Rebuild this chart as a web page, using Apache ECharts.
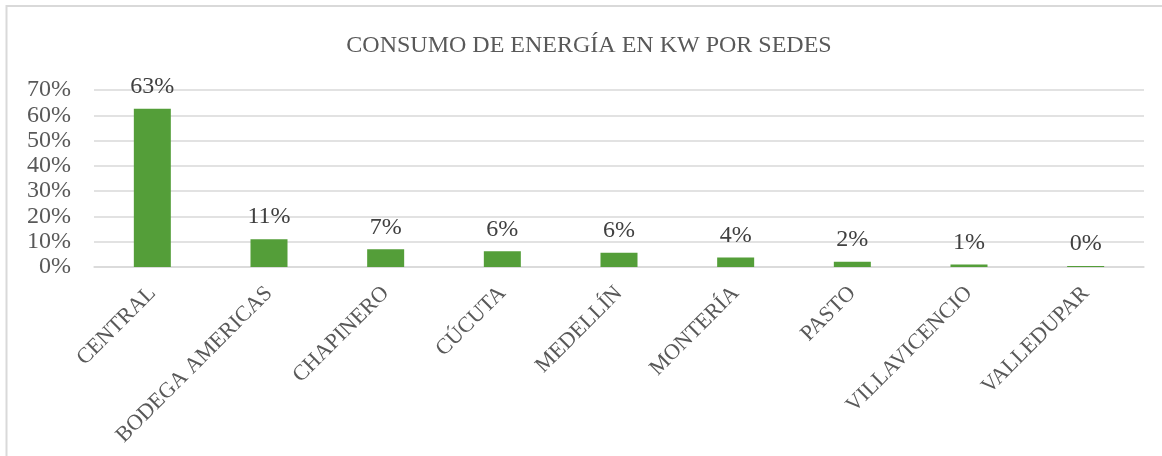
<!DOCTYPE html>
<html>
<head>
<meta charset="utf-8">
<script src="https://cdn.jsdelivr.net/npm/echarts@6/dist/echarts.min.js"></script>
<style>
  html, body { margin: 0; padding: 0; background: #fff; }
  #chart { width: 1162px; height: 456px; }
</style>
</head>
<body>
<div id="chart"></div>
<script>
// sedes y su participación en el consumo
const sedes = ['CENTRAL', 'BODEGA AMERICAS', 'CHAPINERO', 'CÚCUTA', 'MEDELLÍN', 'MONTERÍA', 'PASTO', 'VILLAVICENCIO', 'VALLEDUPAR']
const consumo = [0.626, 0.11, 0.07, 0.062, 0.056, 0.038, 0.021, 0.01, 0.004]
const titulo = 'CONSUMO DE ENERGÍA EN KW POR SEDES'

const serif = '"Liberation Serif", "DejaVu Serif", serif'
const pct = v => Math.round(v * 100) + '%'

const myChart = echarts.init(document.getElementById('chart'), null, { renderer: 'canvas' })

const option = {
  animation: false,
  backgroundColor: '#fff',
  title: {
    text: titulo,
    left: 584,
    textAlign: 'center',
    top: 29,
    textStyle: {
      fontFamily: serif,
      fontWeight: 'normal',
      fontSize: 24,
      color: '#595959'
    }
  },
  graphic: [
    {
      type: 'rect',
      shape: { x: 6.5, y: 6, width: 1200, height: 500 },
      style: { fill: 'none', stroke: '#d9d9d9', lineWidth: 2 },
      silent: true
    }
  ],
  grid: {
    left: 94,
    right: 18,
    top: 90,
    bottom: 189,
    containLabel: false
  },
  xAxis: {
    type: 'category',
    data: sedes,
    axisLine: {
      show: true,
      lineStyle: { color: '#d9d9d9', width: 1.5 }
    },
    axisTick: { show: false },
    axisLabel: {
      rotate: 45,
      interval: 0,
      margin: 23,
      fontFamily: serif,
      fontSize: 22,
      color: '#595959'
    }
  },
  yAxis: {
    type: 'value',
    min: 0,
    max: 0.7,
    interval: 0.1,
    axisLine: { show: false },
    axisTick: { show: false },
    splitLine: {
      lineStyle: { color: '#d9d9d9', width: 1.5 }
    },
    axisLabel: {
      formatter: pct,
      margin: 23,
      fontFamily: serif,
      fontSize: 24,
      color: '#595959'
    }
  },
  series: [
    {
      type: 'bar',
      data: consumo,
      barWidth: 37,
      itemStyle: {
        color: '#549E39'
      },
      label: {
        show: true,
        position: 'top',
        distance: 10,
        formatter: p => pct(p.value),
        fontFamily: serif,
        fontSize: 24,
        color: '#404040'
      }
    }
  ]
}
myChart.setOption(option)
</script>
</body>
</html>
